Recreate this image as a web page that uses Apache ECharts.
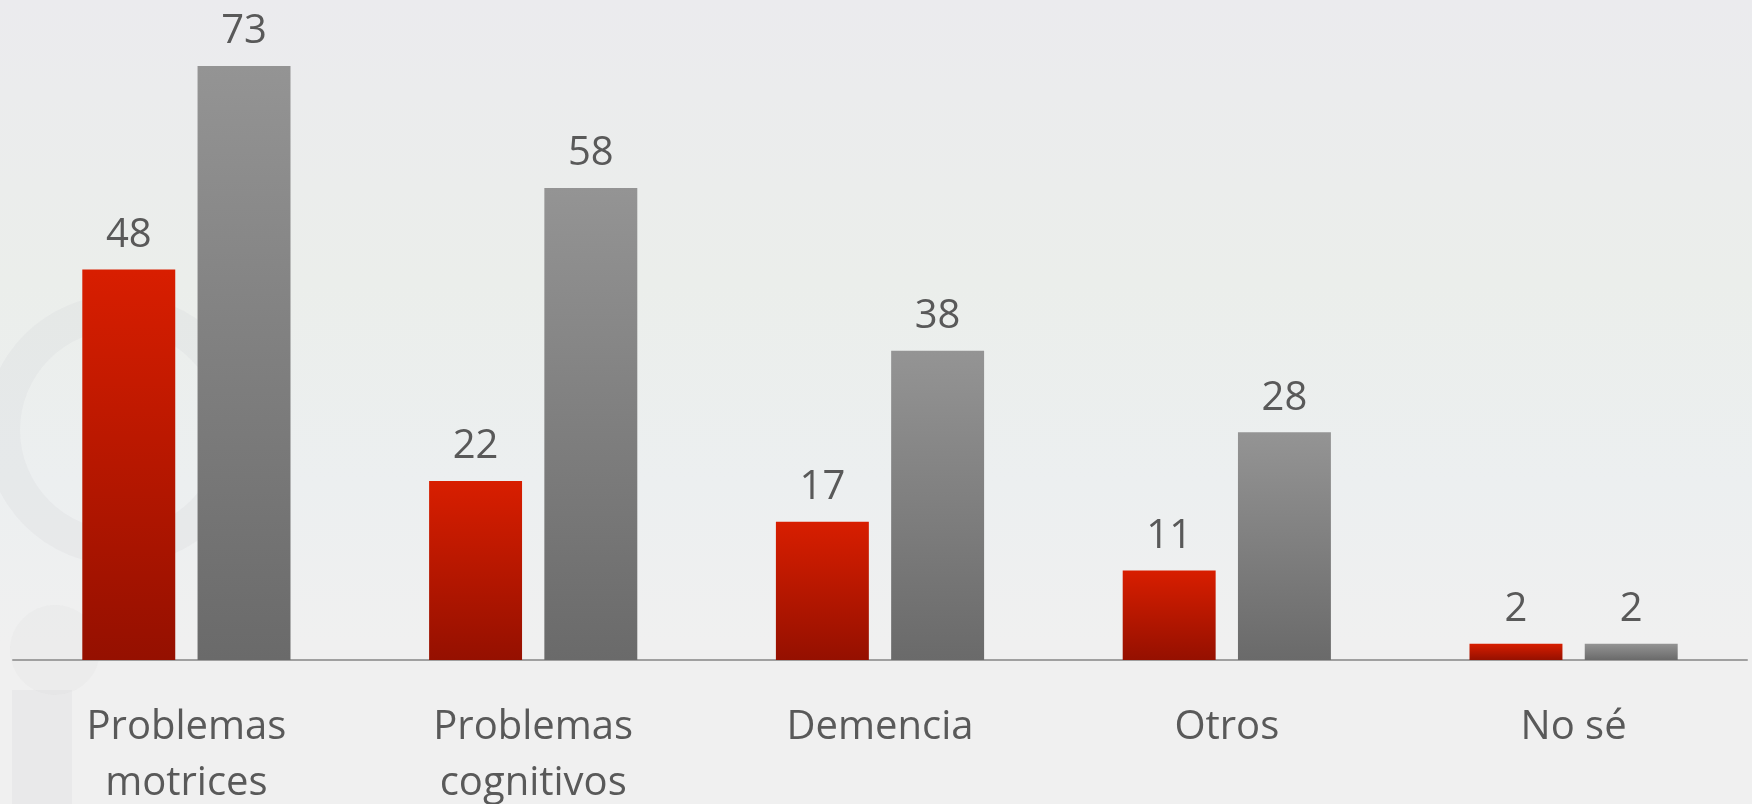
<!DOCTYPE html>
<html>
<head>
<meta charset="utf-8">
<script src="https://cdn.jsdelivr.net/npm/echarts@6/dist/echarts.min.js"></script>
<style>
html, body { margin: 0; padding: 0; }
#chart { width: 1752px; height: 804px; }
</style>
</head>
<body>
<div id="chart"></div>
<script>
var categories = ['Problemas\nmotrices', 'Problemas\ncognitivos', 'Demencia', 'Otros', 'No sé'];
var serieRoja = [48, 22, 17, 11, 2];
var serieGris = [73, 58, 38, 28, 2];

var chart = echarts.init(document.getElementById('chart'));

function grad(top, bottom) {
    return new echarts.graphic.LinearGradient(0, 0, 0, 1, [
        {offset: 0, color: top},
        {offset: 1, color: bottom}
    ]);
}

var labelStyle = {
    show: true,
    position: 'top',
    distance: 14,
    color: '#595959',
    fontFamily: 'Open Sans',
    fontSize: 40
};

var option = {
    backgroundColor: new echarts.graphic.LinearGradient(0, 0, 0, 1, [
        {offset: 0, color: '#ebebee'},
        {offset: 0.35, color: '#ebeeeb'},
        {offset: 0.6, color: '#eceff0'},
        {offset: 0.8, color: '#f0f0f0'},
        {offset: 1, color: '#f0f0f0'}
    ]),
    graphic: [
        {
            type: 'ring',
            shape: {cx: 120, cy: 430, r: 135, r0: 100},
            style: {fill: 'rgba(205,205,212,0.18)'},
            silent: true,
            z: -1
        },
        {
            type: 'circle',
            shape: {cx: 55, cy: 650, r: 45},
            style: {fill: 'rgba(205,205,210,0.13)'},
            silent: true,
            z: -1
        },
        {
            type: 'rect',
            shape: {x: 12, y: 690, width: 60, height: 120},
            style: {fill: 'rgba(205,205,210,0.18)'},
            silent: true,
            z: -1
        }
    ],
    animation: false,
    grid: {left: 13, right: 5, top: 9, bottom: 144, outerBoundsMode: 'none', containLabel: false},
    xAxis: {
        type: 'category',
        data: categories,
        axisLine: {lineStyle: {color: '#a0a0a0', width: 2}},
        axisTick: {show: false},
        axisLabel: {
            color: '#595959',
            fontFamily: 'Open Sans',
            fontSize: 40,
            lineHeight: 56,
            margin: 40
        }
    },
    yAxis: {
        type: 'value',
        min: 0,
        max: 80,
        show: false,
        splitLine: {show: false}
    },
    series: [
        {
            type: 'bar',
            data: serieRoja,
            barWidth: '26.8%',
            barGap: '24%',
            itemStyle: {color: grad('#d81e00', '#951000')},
            label: labelStyle
        },
        {
            type: 'bar',
            data: serieGris,
            barWidth: '26.8%',
            itemStyle: {color: grad('#949494', '#6a6a6a')},
            label: labelStyle
        }
    ]
};
chart.setOption(option);
</script>
</body>
</html>
